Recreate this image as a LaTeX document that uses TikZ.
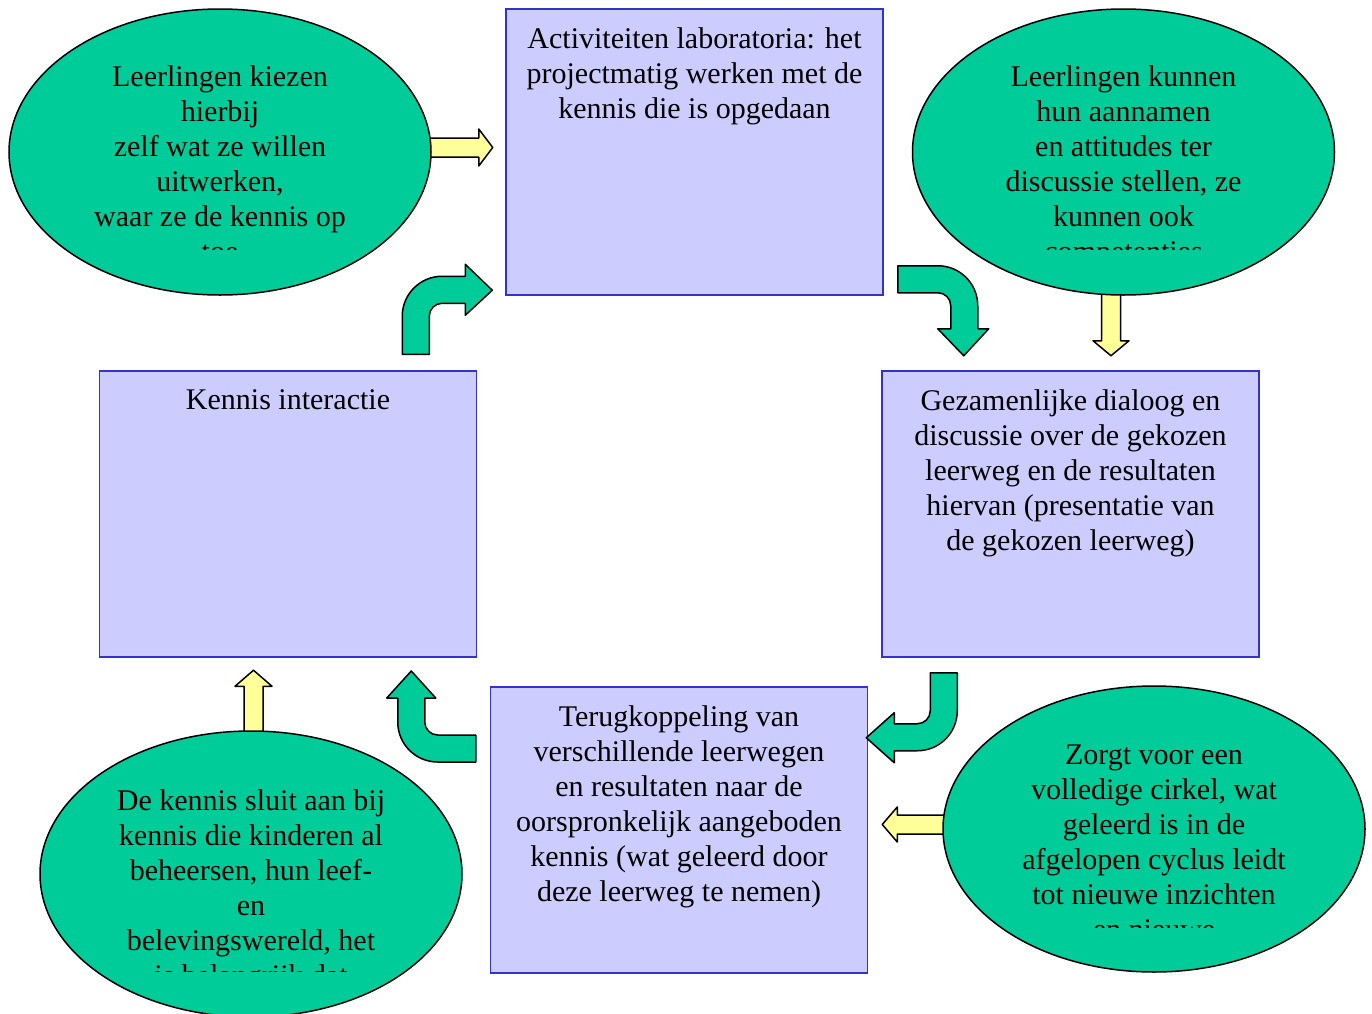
\documentclass[tikz,border=0pt]{standalone}
\usepackage{fontspec}
\setmainfont{Liberation Serif}
\usetikzlibrary{shapes.geometric,positioning}
\definecolor{groen}{RGB}{0,204,153}
\definecolor{lila}{RGB}{204,204,255}
\definecolor{rand}{RGB}{51,51,204}
\definecolor{geel}{RGB}{255,255,153}
\pgfdeclarelayer{achter}
\pgfsetlayers{achter,main}
\begin{document}
\begin{tikzpicture}[x=0.5pt,y=-0.5pt,
  bol/.style={ellipse,draw=black,line width=0.75pt,fill=groen,minimum width=211pt,minimum height=143pt,inner sep=0pt},
  blok/.style={rectangle,draw=rand,line width=0.75pt,fill=lila,minimum width=188.5pt,minimum height=143pt,inner sep=0pt},
  tekst/.style={align=center,inner sep=0pt,font=\fontsize{15pt}{17.5pt}\selectfont},
  pijl/.style={draw=black,line width=0.75pt,fill=groen,line join=round},
  geelpijl/.style={draw=black,line width=0.75pt,fill=geel,line join=round}]
\useasboundingbox (0,0) rectangle (1372,1013);
%Boxes
  \node[blok] (lab) at (694.5,152) {};
  \node[blok] (interactie) at (288,514) {};
  \node[blok] (dialoog) at (1070.5,514) {};
  \node[blok] (terug) at (679,830) {};
  \node[tekst,below=9.5pt of lab.north] (labtekst) {Activiteiten laboratoria: het\\projectmatig werken met de\\kennis die is opgedaan};
  \node[tekst,below=9.5pt of interactie.north] (interactietekst) {Kennis interactie};
  \node[tekst,below=9.5pt of dialoog.north] (dialoogtekst) {Gezamenlijke dialoog en\\discussie over de gekozen\\leerweg en de resultaten\\hiervan (presentatie van\\de gekozen leerweg)};
  \node[tekst,below=9.5pt of terug.north] (terugtekst) {Terugkoppeling van\\verschillende leerwegen\\en resultaten naar de\\oorspronkelijk aangeboden\\kennis (wat geleerd door\\deze leerweg te nemen)};
%Ellipses
  \node[bol] (kiezen) at (220,152) {};
  \node[bol] (kunnen) at (1123.5,152) {};
  \node[bol] (sluit) at (251,874) {};
  \node[bol] (zorgt) at (1154,829) {};
  %text cut off at the bottom
  \begin{scope}
    \clip (10,9) rectangle (430,249.5);
    \node[tekst,below=28.5pt of kiezen.north] (kiezentekst) {Leerlingen kiezen\\hierbij\\zelf wat ze willen\\uitwerken,\\waar ze de kennis op\\toe};
  \end{scope}
  \begin{scope}
    \clip (912,9) rectangle (1335,249.5);
    \node[tekst,below=28.5pt of kunnen.north] (kunnentekst) {Leerlingen kunnen\\hun aannamen\\en attitudes ter\\discussie stellen, ze\\kunnen ook\\competenties};
  \end{scope}
  \begin{scope}
    \clip (40,731) rectangle (462,971);
    \node[tekst,below=29.5pt of sluit.north] (sluittekst) {De kennis sluit aan bij\\kennis die kinderen al\\beheersen, hun leef-\\en\\belevingswereld, het\\is belangrijk dat};
  \end{scope}
  \begin{scope}
    \clip (943,686) rectangle (1365,927);
    \node[tekst,below=29.5pt of zorgt.north] (zorgttekst) {Zorgt voor een\\volledige cirkel, wat\\geleerd is in de\\afgelopen cyclus leidt\\tot nieuwe inzichten\\en nieuwe};
  \end{scope}
%Yellow arrows
\begin{pgfonlayer}{achter}
  \draw[geelpijl] (kiezen.east) ++(-8,-14) -- ++(55,0) -- ++(0,-9) -- ++(14,18.5) -- ++(-14,18.5) -- ++(0,-9) -- ++(-55,0) -- cycle;
  \draw[geelpijl] (kunnen.south) ++(-22,-10) -- ++(0,55) -- ++(-8.5,0) -- ++(18,15) -- ++(18,-15) -- ++(-8.5,0) -- ++(0,-55) -- cycle;
  \draw[geelpijl] (sluit.north) ++(-7,10) -- ++(0,-54) -- ++(-9,0) -- ++(18.5,-16) -- ++(18.5,16) -- ++(-9,0) -- ++(0,54) -- cycle;
  \draw[geelpijl] (zorgt.west) ++(10,-14) -- ++(-55,0) -- ++(0,-8) -- ++(-15,17.5) -- ++(15,17.5) -- ++(0,-8) -- ++(55,0) -- cycle;
\end{pgfonlayer}
%Green arrows
  %interactie to lab
  \draw[pijl] (interactie.north east) ++(-75,-16) -- ++(0,-38) to[out=90,in=180] ++(40,-40) -- ++(23,0) -- ++(0,-12) -- ++(27,26) -- ++(-27,25) -- ++(0,-12) -- ++(-23,0) to[out=180,in=90] ++(-13,13) -- ++(0,38) -- cycle;
  %lab to dialoog
  \draw[pijl] (lab.south east) ++(14,-30) -- ++(40,0) to[out=0,in=90] ++(40,40) -- ++(0,23) -- ++(11,0) -- ++(-25,27) -- ++(-26,-27) -- ++(13,0) -- ++(0,-23) to[out=90,in=0] ++(-13,-13) -- ++(-40,0) -- cycle;
  %dialoog to terug
  \draw[pijl] (dialoog.south west) ++(49,15) -- ++(27,0) -- ++(0,38) to[out=-90,in=0] ++(-40,40) -- ++(-23,0) -- ++(0,12) -- ++(-28,-25) -- ++(28,-25) -- ++(0,11) -- ++(23,0) to[out=0,in=-90] ++(13,-13) -- cycle;
  %terug to interactie
  \draw[pijl] (terug.west) ++(-14,-95) -- ++(-38,0) to[out=180,in=-90] ++(-13,-13) -- ++(0,-24) -- ++(11,0) -- ++(-24.5,-27) -- ++(-24.5,27) -- ++(11,0) -- ++(0,24) to[out=-90,in=180] ++(40,40) -- ++(38,0) -- cycle;
\end{tikzpicture}
\end{document}
